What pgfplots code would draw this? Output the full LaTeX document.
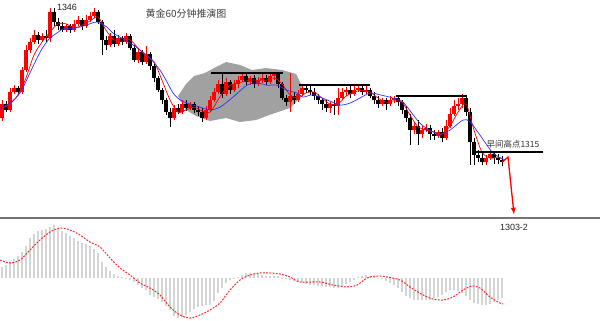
\documentclass[border=0pt]{standalone}
\usepackage{pgfplots}
\pgfplotsset{compat=1.18}
\usepackage{pgfplotstable}
\usepackage{fontspec}
\setmainfont{Liberation Sans}
\newfontfamily\cjk{Noto Sans CJK SC}
\definecolor{upred}{RGB}{255,0,0}
\definecolor{mablue}{RGB}{50,50,255}
\definecolor{histgray}{RGB}{212,212,212}
\definecolor{sepgray}{RGB}{115,115,115}
\definecolor{wmgray}{RGB}{145,145,145}

% x  open  high  low  close
\pgfplotstableread{
x o h l c
2 1322.4 1326.4 1321.8 1325.5
6 1325.5 1326.2 1323.7 1324.2
10 1324.2 1329.0 1323.7 1328.1
14 1328.1 1329.6 1327.7 1329.0
18 1329.0 1329.4 1327.5 1328.1
22 1328.1 1333.6 1327.7 1332.9
26 1332.9 1338.4 1332.5 1337.3
30 1337.3 1339.9 1336.6 1339.0
34 1339.0 1341.6 1338.6 1340.5
38 1340.5 1341.2 1338.6 1339.5
42 1339.5 1341.0 1339.0 1340.3
46 1340.3 1341.6 1339.0 1339.9
50 1339.9 1346.5 1339.0 1345.6
54 1345.6 1346.5 1342.5 1343.4
58 1343.4 1344.3 1341.6 1342.5
62 1342.5 1343.4 1341.2 1341.6
66 1341.6 1343.0 1341.2 1342.5
70 1342.5 1343.0 1341.0 1341.6
74 1341.6 1343.8 1341.2 1343.0
78 1343.0 1344.7 1342.5 1343.8
82 1343.8 1344.3 1341.6 1342.5
86 1342.5 1344.9 1342.1 1343.8
90 1343.8 1345.6 1343.4 1344.7
94 1344.7 1346.5 1344.3 1345.6
98 1345.6 1346.0 1343.0 1343.4
102 1343.4 1343.8 1336.2 1339.5
106 1339.5 1340.3 1337.3 1338.4
110 1338.4 1341.0 1337.9 1340.3
114 1340.3 1341.6 1337.9 1338.6
118 1338.6 1340.5 1338.1 1339.9
122 1339.9 1340.3 1338.4 1339.0
126 1339.0 1341.0 1338.6 1340.3
130 1340.3 1340.8 1337.3 1337.7
134 1337.7 1338.4 1334.7 1335.1
138 1335.1 1337.7 1334.4 1336.8
142 1336.8 1337.3 1334.0 1334.7
146 1334.7 1338.1 1334.2 1336.4
150 1336.4 1336.8 1332.9 1333.8
154 1333.8 1334.2 1330.3 1331.2
158 1331.2 1331.6 1328.1 1328.5
162 1328.5 1329.0 1325.5 1326.4
166 1326.4 1326.8 1323.1 1323.7
170 1323.7 1324.6 1320.5 1322.4
174 1322.4 1325.3 1322.0 1324.6
178 1324.6 1325.5 1323.3 1323.7
182 1323.7 1326.4 1323.3 1325.5
186 1325.5 1326.4 1324.0 1324.6
190 1324.6 1325.9 1324.2 1325.5
194 1325.5 1325.9 1323.5 1324.2
198 1324.2 1325.1 1322.9 1323.7
202 1323.7 1324.6 1321.6 1322.4
206 1322.4 1325.1 1322.0 1324.2
210 1324.2 1327.2 1323.7 1326.4
214 1326.4 1329.0 1325.9 1328.1
218 1328.1 1330.7 1327.7 1329.9
222 1329.9 1332.3 1326.8 1327.7
226 1327.7 1331.2 1327.2 1330.3
230 1330.3 1330.7 1327.7 1328.5
234 1328.5 1330.7 1328.1 1329.9
238 1329.9 1331.6 1329.0 1330.7
242 1330.7 1332.5 1330.3 1331.6
246 1331.6 1332.3 1329.4 1330.3
250 1330.3 1331.6 1329.6 1331.2
254 1331.2 1331.8 1329.0 1329.9
258 1329.9 1331.4 1329.4 1330.7
262 1330.7 1332.0 1330.1 1331.2
266 1331.2 1331.8 1329.6 1330.3
270 1330.3 1332.0 1329.9 1331.6
274 1331.6 1332.5 1330.7 1332.0
278 1332.0 1332.5 1329.0 1329.9
282 1329.9 1330.3 1326.4 1326.8
286 1326.8 1327.5 1325.1 1325.9
290 1325.9 1332.3 1323.7 1327.2
294 1327.2 1328.1 1325.5 1326.4
298 1326.4 1328.5 1325.9 1327.7
302 1327.7 1329.6 1327.2 1329.0
306 1329.0 1329.6 1327.9 1328.5
310 1328.5 1329.4 1327.5 1328.1
314 1328.1 1329.0 1326.4 1327.2
318 1327.2 1327.7 1325.5 1326.4
322 1326.4 1326.8 1324.2 1325.5
326 1325.5 1326.4 1323.7 1324.6
330 1324.6 1325.9 1323.5 1325.5
334 1325.5 1326.4 1323.1 1325.1
338 1325.1 1329.0 1323.1 1326.8
342 1326.8 1329.0 1326.4 1328.1
346 1328.1 1329.2 1327.2 1328.5
350 1328.5 1329.4 1326.8 1327.7
354 1327.7 1329.4 1327.2 1328.5
358 1328.5 1329.6 1328.1 1329.0
362 1329.0 1329.4 1327.5 1328.1
366 1328.1 1329.6 1327.7 1328.5
370 1328.5 1329.0 1326.8 1327.2
374 1327.2 1328.1 1325.5 1326.4
378 1326.4 1327.2 1324.6 1325.5
382 1325.5 1326.8 1325.1 1326.4
386 1326.4 1326.8 1324.2 1325.5
390 1325.5 1327.2 1325.1 1326.4
394 1326.4 1327.2 1325.7 1326.8
398 1326.8 1327.2 1325.1 1325.9
402 1325.9 1326.4 1323.3 1324.2
406 1324.2 1325.1 1321.6 1322.4
410 1322.4 1323.3 1316.5 1319.8
414 1319.8 1321.6 1318.9 1320.7
418 1320.7 1322.0 1316.5 1318.9
422 1318.9 1320.7 1318.1 1319.8
426 1319.8 1321.1 1319.4 1320.3
430 1320.3 1320.9 1317.6 1318.9
434 1318.9 1319.8 1317.6 1318.5
438 1318.5 1319.8 1318.1 1319.4
442 1319.4 1320.3 1317.2 1318.1
446 1318.1 1322.0 1317.6 1320.7
450 1320.7 1324.6 1320.3 1323.3
454 1323.3 1326.4 1322.9 1325.1
458 1325.1 1326.8 1324.2 1325.5
462 1325.5 1327.7 1324.6 1326.8
466 1326.8 1327.2 1322.9 1323.7
470 1323.7 1324.6 1312.2 1317.2
474 1317.2 1318.1 1312.2 1314.4
478 1314.4 1315.5 1312.8 1313.7
482 1313.7 1315.0 1312.2 1312.8
486 1312.8 1314.4 1312.2 1313.7
490 1313.7 1315.5 1313.3 1314.6
494 1314.6 1315.0 1312.4 1313.7
498 1313.7 1314.6 1312.4 1313.3
502 1313.3 1314.1 1311.9 1312.8
}\candles

\pgfplotstableread{
x v
2 1.1
6 1.3
10 1.6
14 1.9
18 2.2
22 2.6
26 3.2
30 4.0
34 4.4
38 4.7
42 4.8
46 4.9
50 5.1
54 5.3
58 5.0
62 4.7
66 4.5
70 4.2
74 4.0
78 3.7
82 3.5
86 3.4
90 3.2
94 2.9
98 2.5
102 1.6
106 1.1
110 0.7
114 0.4
118 0.2
122 0.1
126 -0.1
130 -0.2
134 -0.4
138 -0.7
142 -1.0
146 -1.2
150 -1.7
154 -1.9
158 -2.1
162 -2.4
166 -2.8
170 -3.2
174 -3.8
178 -4.0
182 -3.9
186 -3.7
190 -3.4
194 -3.1
198 -2.9
202 -2.8
206 -2.7
210 -2.7
214 -2.3
218 -1.5
222 -1.0
226 -0.5
230 -0.2
234 -0.1
238 0.1
242 0.3
246 0.5
250 0.5
254 0.5
258 0.4
262 0.3
266 0.2
270 0.2
274 0.2
278 0.2
282 -0.1
286 -0.1
290 -0.2
294 -0.3
298 -0.4
302 -0.5
306 -0.6
310 -0.7
314 -0.7
318 -0.8
322 -0.8
326 -0.9
330 -0.9
334 -1.0
338 -1.0
342 -0.8
346 -0.6
350 -0.4
354 -0.2
358 0.1
362 0.2
366 0.3
370 0.2
374 0.1
378 -0.1
382 -0.1
386 -0.3
390 -0.5
394 -0.7
398 -1.0
402 -1.4
406 -1.8
410 -2.0
414 -2.2
418 -2.2
422 -2.2
426 -2.2
430 -2.2
434 -2.0
438 -1.9
442 -1.7
446 -1.4
450 -1.2
454 -1.2
458 -1.3
462 -1.5
466 -1.8
470 -2.2
474 -2.5
478 -2.6
482 -2.7
486 -2.7
490 -2.6
494 -2.4
498 -2.2
502 -2.0
}\hist

\begin{document}
\begin{tikzpicture}[x=1bp,y=1bp]
\fill[white] (0,0) rectangle (600,320);
\useasboundingbox (0,0) rectangle (600,320);
% watermark smudge
\fill[wmgray, opacity=0.85]
  (178,224) -- (186,236) -- (194,244) -- (205,247) -- (214,252) -- (226,258)
  -- (240,255) -- (252,250) -- (266,252) -- (282,250) -- (296,246) -- (302,234)
  -- (298,220) -- (290,212) -- (272,206) -- (256,200) -- (240,198) -- (226,202)
  -- (210,199) -- (196,204) -- (186,210) -- cycle;

\begin{axis}[at={(0bp,103bp)}, anchor=south west, scale only axis,
  width=600bp, height=217bp, xmin=0, xmax=600, ymin=1300.83, ymax=1348.2,
  axis lines=none, clip=false]
% wicks
\addplot[upred, line width=0.9bp, quiver={u=0, v=\thisrow{h}-\thisrow{l}},
  restrict expr to domain={\thisrow{c}-\thisrow{o}}{0:1000}]
  table[x=x, y=l] {\candles};
\addplot[black, line width=0.9bp, quiver={u=0, v=\thisrow{h}-\thisrow{l}},
  restrict expr to domain={\thisrow{c}-\thisrow{o}}{-1000:0}]
  table[x=x, y=l] {\candles};
% bodies
\addplot[upred, line width=3.1bp, quiver={u=0, v=\thisrow{c}-\thisrow{o}},
  restrict expr to domain={\thisrow{c}-\thisrow{o}}{0:1000}]
  table[x=x, y=o] {\candles};
\addplot[black, line width=3.1bp, quiver={u=0, v=\thisrow{c}-\thisrow{o}},
  restrict expr to domain={\thisrow{c}-\thisrow{o}}{-1000:0}]
  table[x=x, y=o] {\candles};
% fast MA (red)
\addplot[upred, line width=0.7bp, smooth, mark=none] coordinates {
(2,1324.6)(10,1325.5)(18,1327.5)(26,1331.2)(34,1336.2)(42,1339.0)(50,1341.2)
(58,1343.0)(66,1343.0)(74,1342.1)(82,1342.7)(90,1343.6)(98,1344.5)(106,1341.6)
(114,1339.5)(122,1339.2)(130,1339.5)(138,1337.7)(146,1336.0)(154,1334.7)
(162,1330.7)(170,1326.4)(178,1323.7)(186,1324.2)(194,1324.8)(202,1324.0)
(210,1323.7)(218,1326.4)(226,1329.0)(234,1329.9)(242,1330.3)(250,1330.7)
(258,1330.7)(266,1330.7)(274,1331.2)(282,1329.9)(290,1327.5)(298,1326.8)
(306,1327.9)(314,1328.1)(322,1326.8)(330,1325.5)(338,1325.5)(346,1327.2)
(354,1328.1)(362,1328.5)(370,1328.1)(378,1326.8)(386,1325.9)(394,1326.2)
(402,1325.9)(410,1323.1)(418,1320.5)(426,1319.8)(434,1319.4)(442,1318.9)
(450,1320.7)(458,1323.7)(466,1325.5)(474,1319.8)(482,1315.0)(490,1313.7)
(498,1313.9)(502,1313.5)};
% slow MA (blue)
\addplot[mablue, line width=0.7bp, smooth, mark=none] coordinates {
(0,1324.6)(10,1325.7)(20,1327.9)(30,1332.3)(37,1335.5)(43,1337.9)(50,1339.9)
(57,1341.0)(63,1341.9)(70,1341.9)(80,1342.3)(90,1343.0)(97,1343.4)(107,1342.3)
(113,1341.0)(130,1338.8)(140,1337.3)(150,1335.5)(160,1332.9)(167,1330.3)
(173,1327.9)(180,1326.4)(187,1325.7)(200,1324.8)(210,1324.2)(220,1324.8)
(233,1327.0)(247,1329.6)(257,1330.1)(267,1329.6)(277,1329.6)(287,1328.5)
(297,1327.9)(303,1327.0)(313,1327.5)(327,1326.4)(340,1325.3)(350,1325.7)
(360,1326.8)(370,1327.9)(380,1327.5)(393,1326.8)(403,1325.9)(420,1321.3)
(433,1319.4)(440,1318.9)(450,1319.8)(463,1322.0)(470,1321.6)(480,1318.7)
(493,1314.8)(505,1313.3)};
% resistance lines
\addplot[black, line width=1.6bp, mark=none] coordinates {(211,1332.3)(283,1332.3)};
\addplot[black, line width=1.6bp, mark=none] coordinates {(299,1329.6)(370,1329.6)};
\addplot[black, line width=1.6bp, mark=none] coordinates {(396,1327.2)(467,1327.2)};
\addplot[black, line width=1.6bp, mark=none] coordinates {(472,1315.0)(543,1315.0)};
% projection
\addplot[upred, line width=1.3bp, mark=none, -latex] coordinates {(502,1312.8)(508,1313.9)(514,1301.4)};
\end{axis}

\begin{axis}[at={(0bp,0bp)}, anchor=south west, scale only axis,
  width=600bp, height=100bp, xmin=0, xmax=600, ymin=-4.2, ymax=5.8,
  axis lines=none, clip=false]
\addplot[histgray, line width=1.5bp, ycomb, mark=none] table[x=x, y=v] {\hist};
\addplot[upred!85, line width=1bp, smooth, mark=none, dash pattern=on 1.8bp off 1.4bp] coordinates {
(0,1.8)(10,1.5)(20,1.8)(30,2.8)(40,3.8)(50,4.6)(60,5.0)(70,4.8)(80,4.3)(90,3.6)
(100,3.1)(110,2.0)(120,1.0)(130,0.3)(140,-0.5)(150,-1.0)(160,-1.7)(170,-2.9)
(180,-3.7)(190,-4.0)(200,-3.7)(210,-3.2)(220,-2.5)(230,-1.2)(240,-0.2)(250,0.3)
(260,0.5)(270,0.5)(280,0.4)(290,0.1)(300,-0.4)(320,-0.4)(333,-0.7)(347,-0.9)
(357,-0.7)(367,0.0)(377,0.2)(387,0.1)(400,-0.2)(410,-0.9)(423,-1.7)(433,-2.1)
(443,-2.2)(453,-1.9)(463,-1.2)(472,-0.8)(480,-1.0)(490,-1.9)(500,-2.5)(503,-2.6)};
\end{axis}

% separator
\draw[sepgray, line width=2.6bp] (0,102) -- (600,102);
% texts
\node[font=\fontsize{9}{9}\selectfont, text=black!85] at (67,313) {1346};
\node[font=\cjk\fontsize{10}{10}\selectfont, text=black!75] at (186,306) {黄金60分钟推演图};
\node[font=\cjk\fontsize{8.5}{8.5}\selectfont, text=black!80] at (513,176) {早间高点1315};
\node[font=\fontsize{9}{9}\selectfont, text=black!85] at (514,93) {1303-2};
\end{tikzpicture}
\end{document}
